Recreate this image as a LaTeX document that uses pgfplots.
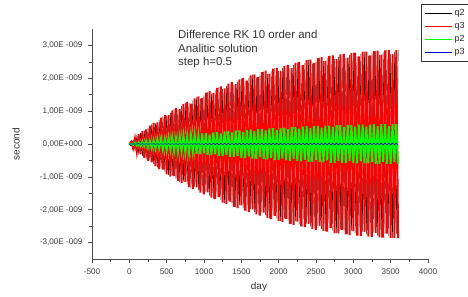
\documentclass[border=0pt]{standalone}
\usepackage{fontspec}
\setmainfont{Liberation Sans}
\usepackage{pgfplots}
\usepackage{pgfplotstable}
\pgfplotsset{compat=1.18}
\definecolor{cq3}{RGB}{255,0,0}
\definecolor{cp2}{RGB}{0,255,0}
\definecolor{cp3}{RGB}{0,0,200}
\pgfplotsset{
  mylegimg/.style={legend image code/.code={\draw[##1, line width=0.9bp] (0bp,0bp) -- (27bp,0bp);}},
}
\pgfplotstableread{
d q3 q2 p2 p3
0 0 0 0 0
25 0.07 -0.06 0.01 0.00
50 -0.13 0.12 -0.03 0.00
75 0.17 -0.19 0.04 0.00
100 -0.25 0.23 -0.05 0.00
125 0.30 -0.28 0.05 0.01
150 -0.31 0.34 -0.07 -0.01
175 0.39 -0.36 0.08 0.01
200 -0.43 0.41 -0.07 -0.01
225 0.44 -0.47 0.10 0.01
250 -0.51 0.48 -0.11 -0.01
275 0.56 -0.50 0.10 0.01
300 -0.56 0.60 -0.13 -0.01
325 0.64 -0.61 0.11 0.01
350 -0.68 0.63 -0.14 -0.01
375 0.66 -0.72 0.15 0.01
400 -0.76 0.73 -0.13 -0.01
425 0.80 -0.75 0.17 0.01
450 -0.78 0.84 -0.18 -0.01
475 0.88 -0.84 0.15 0.01
500 -0.92 0.86 -0.19 -0.01
525 0.88 -0.95 0.20 0.01
550 -0.99 0.95 -0.18 -0.01
575 1.02 -0.96 0.21 0.01
600 -0.98 1.06 -0.22 -0.01
625 1.09 -1.05 0.19 0.01
650 -1.12 1.05 -0.24 -0.01
675 1.07 -1.16 0.24 0.01
700 -1.19 1.15 -0.21 -0.01
725 1.22 -1.14 0.26 0.01
750 -1.15 1.25 -0.26 -0.01
775 1.28 -1.23 0.23 0.01
800 -1.31 1.24 -0.28 -0.01
825 1.23 -1.34 0.28 0.01
850 -1.37 1.32 -0.25 -0.01
875 1.39 -1.30 0.29 0.01
900 -1.32 1.42 -0.30 -0.01
925 1.45 -1.40 0.26 0.01
950 -1.48 1.39 -0.31 -0.01
975 1.40 -1.50 0.32 0.01
1000 -1.53 1.48 -0.28 -0.02
1025 1.56 -1.46 0.33 0.02
1050 -1.47 1.58 -0.33 -0.02
1075 1.61 -1.56 0.29 0.02
1100 -1.63 1.53 -0.34 -0.02
1125 1.55 -1.66 0.35 0.02
1150 -1.68 1.63 -0.31 -0.02
1175 1.71 -1.60 0.36 0.02
1200 -1.62 1.73 -0.36 -0.02
1225 1.75 -1.70 0.32 0.02
1250 -1.78 1.67 -0.37 -0.02
1275 1.69 -1.80 0.38 0.02
1300 -1.82 1.77 -0.33 -0.02
1325 1.84 -1.73 0.39 0.02
1350 -1.75 1.87 -0.39 -0.02
1375 1.89 -1.84 0.35 0.02
1400 -1.91 1.80 -0.40 -0.02
1425 1.82 -1.93 0.41 0.02
1450 -1.95 1.90 -0.36 -0.02
1475 1.97 -1.86 0.41 0.02
1500 -1.87 1.99 -0.42 -0.02
1525 2.01 -1.96 0.37 0.02
1550 -2.03 1.92 -0.43 -0.02
1575 1.93 -2.05 0.43 0.02
1600 -2.07 2.02 -0.38 -0.02
1625 2.09 -1.98 0.44 0.02
1650 -1.99 2.11 -0.44 -0.02
1675 2.12 -2.07 0.39 0.02
1700 -2.14 2.03 -0.45 -0.02
1725 2.04 -2.16 0.45 0.02
1750 -2.18 2.12 -0.40 -0.02
1775 2.19 -2.08 0.46 0.02
1800 -2.09 2.21 -0.46 -0.02
1825 2.23 -2.17 0.41 0.02
1850 -2.25 2.13 -0.47 -0.02
1875 2.14 -2.26 0.47 0.02
1900 -2.28 2.22 -0.42 -0.02
1925 2.29 -2.18 0.48 0.02
1950 -2.19 2.31 -0.49 -0.02
1975 2.32 -2.26 0.43 0.02
2000 -2.34 2.22 -0.49 -0.02
2025 2.23 -2.35 0.49 0.02
2050 -2.37 2.31 -0.44 -0.02
2075 2.38 -2.27 0.50 0.02
2100 -2.28 2.40 -0.50 -0.02
2125 2.41 -2.35 0.45 0.02
2150 -2.43 2.31 -0.51 -0.02
2175 2.32 -2.44 0.51 0.02
2200 -2.46 2.40 -0.46 -0.02
2225 2.47 -2.35 0.52 0.02
2250 -2.36 2.48 -0.52 -0.02
2275 2.50 -2.44 0.47 0.02
2300 -2.51 2.39 -0.53 -0.02
2325 2.40 -2.52 0.53 0.02
2350 -2.53 2.47 -0.48 -0.02
2375 2.55 -2.42 0.54 0.02
2400 -2.43 2.56 -0.54 -0.02
2425 2.57 -2.51 0.48 0.02
2450 -2.58 2.45 -0.54 -0.02
2475 2.47 -2.60 0.55 0.03
2500 -2.61 2.55 -0.49 -0.03
2525 2.62 -2.49 0.55 0.03
2550 -2.50 2.63 -0.55 -0.03
2575 2.64 -2.58 0.50 0.03
2600 -2.65 2.52 -0.56 -0.03
2625 2.53 -2.66 0.56 0.03
2650 -2.67 2.61 -0.50 -0.03
2675 2.68 -2.55 0.56 0.03
2700 -2.56 2.69 -0.57 -0.03
2725 2.70 -2.64 0.51 0.03
2750 -2.71 2.58 -0.57 -0.03
2775 2.58 -2.71 0.57 0.03
2800 -2.72 2.66 -0.52 -0.03
2825 2.73 -2.60 0.57 0.03
2850 -2.61 2.74 -0.58 -0.03
2875 2.74 -2.68 0.52 0.03
2900 -2.75 2.62 -0.58 -0.03
2925 2.63 -2.76 0.58 0.03
2950 -2.77 2.71 -0.52 -0.03
2975 2.77 -2.64 0.58 0.03
3000 -2.65 2.78 -0.58 -0.03
3025 2.78 -2.72 0.53 0.03
3050 -2.79 2.66 -0.59 -0.03
3075 2.67 -2.79 0.59 0.03
3100 -2.80 2.74 -0.53 -0.03
3125 2.80 -2.67 0.59 0.03
3150 -2.68 2.81 -0.59 -0.03
3175 2.81 -2.75 0.53 0.03
3200 -2.82 2.69 -0.59 -0.03
3225 2.70 -2.82 0.59 0.03
3250 -2.83 2.77 -0.54 -0.03
3275 2.83 -2.70 0.60 0.03
3300 -2.71 2.84 -0.60 -0.03
3325 2.84 -2.78 0.54 0.03
3350 -2.84 2.71 -0.60 -0.03
3375 2.72 -2.85 0.60 0.03
3400 -2.85 2.79 -0.54 -0.03
3425 2.85 -2.72 0.60 0.03
3450 -2.73 2.86 -0.60 -0.03
3475 2.86 -2.80 0.54 0.03
3500 -2.86 2.73 -0.60 -0.03
3525 2.74 -2.86 0.60 0.03
3550 -2.86 2.80 -0.54 -0.03
3575 2.86 -2.74 0.60 0.03
3600 -2.86 2.86 -0.60 -0.03
}\data

\begin{document}
\begin{tikzpicture}
\useasboundingbox (-92bp,-38bp) rectangle (376bp,259bp);
\begin{axis}[
  at={(0,0)}, anchor=south west,
  scale only axis, width=336bp, height=230bp,
  xmin=-500, xmax=4000, ymin=-3.5, ymax=3.5,
  axis lines=left,
  axis line style={-, black!70, line width=0.6bp},
  xtick={-500,0,500,1000,1500,2000,2500,3000,3500,4000},
  xticklabels={-500,0,500,1000,1500,2000,2500,3000,3500,4000},
  minor x tick num=1,
  ytick={-3,-2,-1,0,1,2,3},
  yticklabels={{-3,00E -009},{-2,00E -009},{-1,00E -009},{0,00E+000},{1,00E -009},{2,00E -009},{3,00E -009}},
  minor y tick num=1,
  tick align=outside,
  major tick length=4bp, minor tick length=2.5bp,
  tick style={black!70, line width=0.5bp},
  ticklabel style={font=\fontsize{8.2}{9}\selectfont, text=black!75},
  xticklabel style={yshift=-2bp},
  yticklabel style={xshift=-2bp},
  xlabel={day}, ylabel={second},
  label style={font=\fontsize{10}{11}\selectfont, text=black!80},
  xlabel style={at={(axis description cs:0.497,-0.122)}, anchor=center},
  ylabel style={at={(axis description cs:-0.226,0.5)}, anchor=center},
  legend style={at={(axis description cs:0.979,1.109)}, anchor=north west,
    draw=black!80, fill=white, font=\fontsize{9}{10}\selectfont,
    inner sep=3.5bp, row sep=1.2bp, text=black!85},
  mylegimg,
  legend cell align=left,
]
\addplot[black, line width=0.45bp] table[x=d, y=q2] {\data};
\addlegendentry{q2}
\addplot[cq3, line width=1.9bp] table[x=d, y=q3] {\data};
\addlegendentry{q3}
\addplot[cp2, line width=1.9bp] table[x=d, y=p2] {\data};
\addlegendentry{p2}
\addplot[cp3, line width=0.6bp] table[x=d, y=p3] {\data};
\addlegendentry{p3}
\node[anchor=north west, align=left, inner sep=0pt, text=black!80,
  font=\fontsize{11.5}{13.5}\selectfont] at (axis description cs:0.256,0.995)
  {Difference RK 10 order and\\Analitic solution\\step h=0.5};
\end{axis}
\end{tikzpicture}
\end{document}
